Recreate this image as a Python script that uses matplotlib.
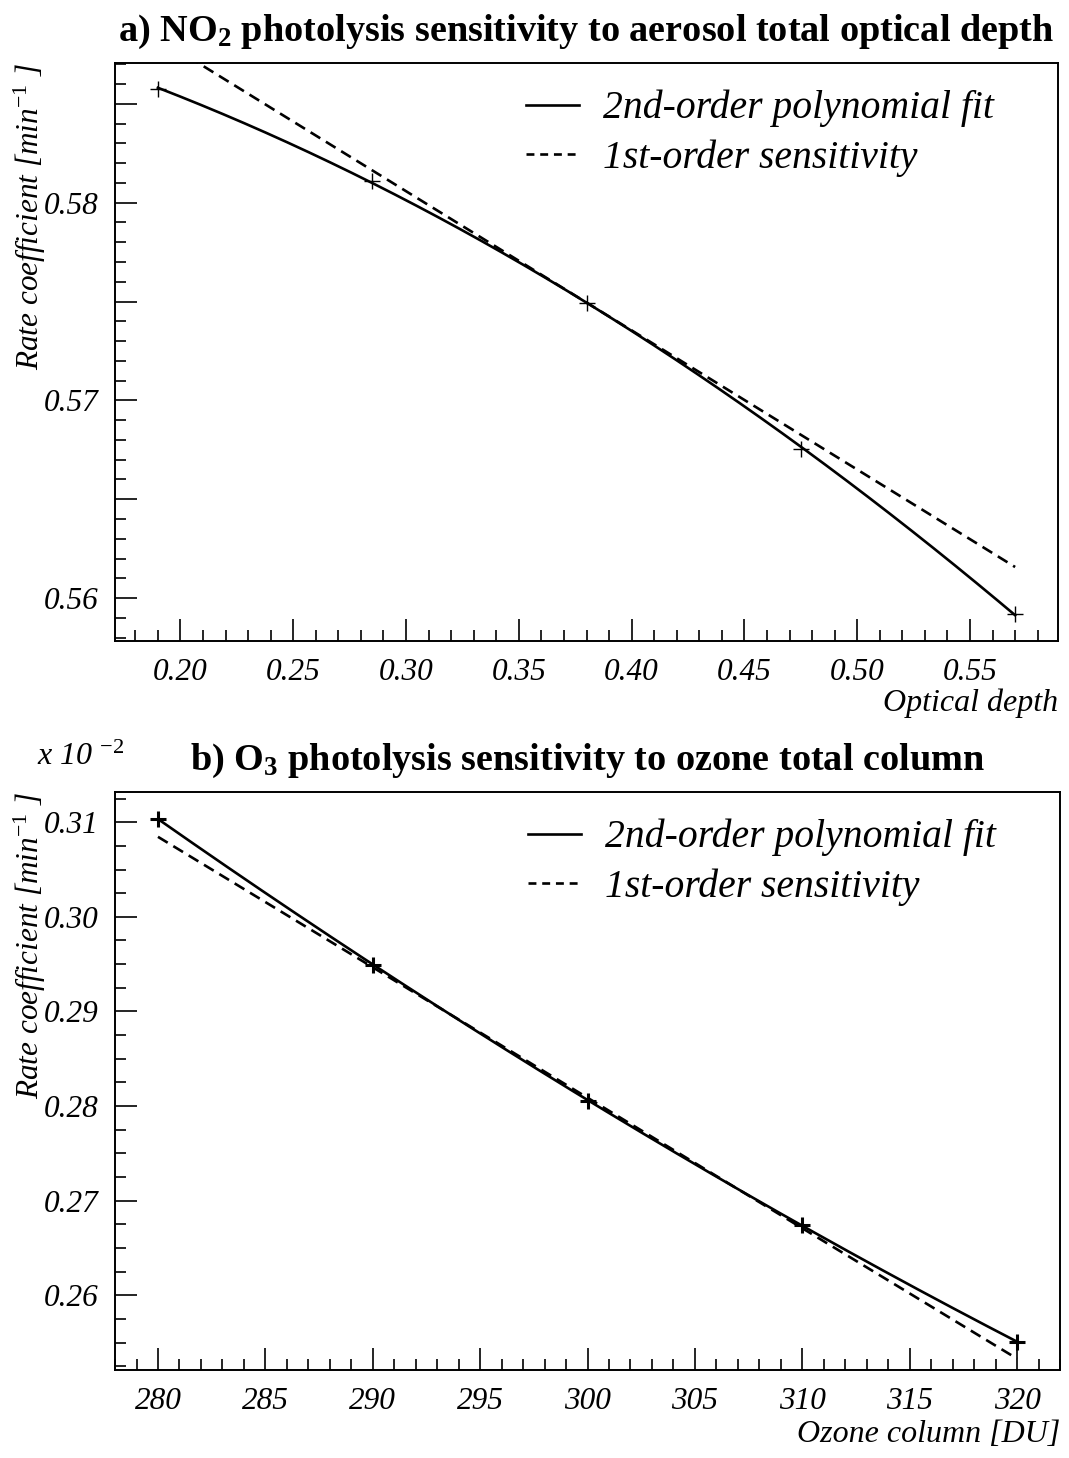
import numpy as np
import matplotlib
matplotlib.use("Agg")
import matplotlib.pyplot as plt
from matplotlib.ticker import MultipleLocator, FuncFormatter
from matplotlib.lines import Line2D

plt.rcParams['font.family'] = ['Liberation Serif', 'DejaVu Serif']
plt.rcParams['mathtext.fontset'] = 'custom'
plt.rcParams['mathtext.rm'] = 'Liberation Serif'
plt.rcParams['mathtext.it'] = 'Liberation Serif:italic'
plt.rcParams['mathtext.bf'] = 'Liberation Serif:bold'

# a) NO2 photolysis vs aerosol optical depth
tau = [0.19, 0.285, 0.38, 0.475, 0.57]
j_no2 = [0.58576, 0.58111, 0.57495, 0.56754, 0.55919]
# 1st-order sensitivity line, end points
tau_lin = [0.19, 0.57]
j_no2_lin = [0.58833, 0.56157]

# b) O3 photolysis vs ozone column (min^-1)
ozone = [280, 290, 300, 310, 320]
j_o3 = [3.1036e-3, 2.9496e-3, 2.8058e-3, 2.6743e-3, 2.5505e-3]
ozone_lin = [280, 320]
j_o3_lin = [3.0846e-3, 2.5329e-3]

leg_labels = ["2nd-order polynomial fit", "1st-order sensitivity"]

LW = 1.9
DASH = (4.3, 2.5)


def style_axis(ax):
    for s in ax.spines.values():
        s.set_linewidth(1.4)
    ax.tick_params(which='both', direction='in', top=False, right=False,
                   labelsize=22.5, width=1.2)
    ax.tick_params(which='major', length=16, pad=12)
    ax.tick_params(which='minor', length=8)
    for lab in ax.get_xticklabels() + ax.get_yticklabels():
        lab.set_fontstyle('italic')


def draw_panel(ax, x, y, xl, yl, scale, mew):
    x = np.asarray(x)
    y = np.asarray(y) / scale
    coef = np.polyfit(x, y, 2)
    xs = np.linspace(x.min(), x.max(), 200)
    ax.plot(xs, np.polyval(coef, xs), color='black', lw=LW)
    ax.plot(xl, np.asarray(yl) / scale, color='black', lw=LW, dashes=DASH)
    ax.plot(x, y, ls='none', marker='+', ms=11, mew=mew, color='black')
    handles = [Line2D([], [], color='black', lw=LW),
               Line2D([], [], color='black', lw=LW, dashes=(3.0, 2.2))]
    leg = ax.legend(handles, leg_labels, loc='upper right', frameon=False,
                    bbox_to_anchor=(0.97, 1.015), handlelength=1.35,
                    handletextpad=0.6, labelspacing=0.3,
                    prop={'size': 28.5, 'style': 'italic'})
    return leg


fig = plt.figure(figsize=(10.69, 14.58), dpi=100)

# panel a
ax1 = fig.add_axes([0.1076, 0.5604, 0.8821, 0.3964])
draw_panel(ax1, tau, j_no2, tau_lin, j_no2_lin, 1.0, 1.0)
ax1.set_xlim(0.171, 0.589)
ax1.set_ylim(0.55783, 0.58707)
ax1.xaxis.set_major_locator(MultipleLocator(0.05))
ax1.xaxis.set_minor_locator(MultipleLocator(0.01))
ax1.xaxis.set_major_formatter(FuncFormatter(lambda v, p: f"{v:.2f}"))
ax1.yaxis.set_major_locator(MultipleLocator(0.005))
ax1.yaxis.set_minor_locator(MultipleLocator(0.001))
ax1.yaxis.set_major_formatter(FuncFormatter(
    lambda v, p: f"{v:.2f}" if abs(v * 100 - round(v * 100)) < 1e-6 else ""))
style_axis(ax1)
ax1.set_title(r"a) NO$_\mathbf{2}$ photolysis sensitivity to aerosol total optical depth",
              fontsize=27.5, fontweight='bold', pad=16)
ax1.text(-0.09, 1.0, r"Rate coefficient [min$^{\mathit{-1}}$ ]", rotation=90,
         ha='center', va='top', fontsize=22.5, style='italic', transform=ax1.transAxes)
ax1.text(1.0, -0.083, "Optical depth", ha='right', va='top', fontsize=23,
         style='italic', transform=ax1.transAxes)

# panel b
ax2 = fig.add_axes([0.1076, 0.0604, 0.8840, 0.3964])
draw_panel(ax2, ozone, j_o3, ozone_lin, j_o3_lin, 1e-2, 2.2)
ax2.set_xlim(278, 322)
ax2.set_ylim(0.2521, 0.3132)
ax2.xaxis.set_major_locator(MultipleLocator(5))
ax2.xaxis.set_minor_locator(MultipleLocator(1))
ax2.xaxis.set_major_formatter(FuncFormatter(lambda v, p: f"{v:.0f}"))
ax2.yaxis.set_major_locator(MultipleLocator(0.01))
ax2.yaxis.set_minor_locator(MultipleLocator(0.0025))
ax2.yaxis.set_major_formatter(FuncFormatter(lambda v, p: f"{v:.2f}"))
style_axis(ax2)
ax2.set_title(r"b) O$_\mathbf{3}$ photolysis sensitivity to ozone total column",
              fontsize=27.5, fontweight='bold', pad=16)
ax2.text(-0.09, 1.0, r"Rate coefficient [min$^{\mathit{-1}}$ ]", rotation=90,
         ha='center', va='top', fontsize=22.5, style='italic', transform=ax2.transAxes)
ax2.text(1.0, -0.086, "Ozone column [DU]", ha='right', va='top', fontsize=23,
         style='italic', transform=ax2.transAxes)
ax2.text(-0.083, 1.035, r"x 10 $^{\mathit{-2}}$", ha='left', va='bottom', fontsize=23,
         style='italic', transform=ax2.transAxes)

fig.savefig("out.png", dpi=100)
